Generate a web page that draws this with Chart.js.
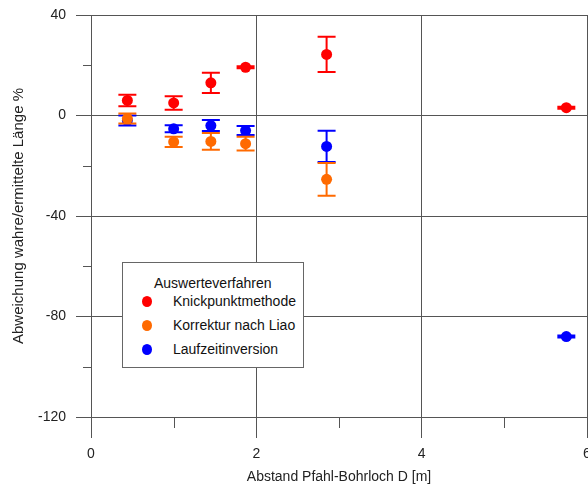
<!DOCTYPE html>
<html><head><meta charset="utf-8">
<script src="https://cdn.jsdelivr.net/npm/chart.js@4/dist/chart.umd.min.js"></script>
<style>
html,body{margin:0;padding:0;background:#fff;}
#wrap{position:relative;width:588px;height:486px;overflow:hidden;}
#c{position:absolute;left:0;top:0;}
#legend{position:absolute;left:122px;top:262px;width:180px;height:104px;border:1px solid #666;background:#fff;font:14px "Liberation Sans",Arial,sans-serif;color:#111;}
#legend .t{position:absolute;left:31px;top:11px;line-height:18px;white-space:nowrap;}
#legend .it{position:absolute;left:50px;line-height:18px;white-space:nowrap;}
#legend .dot{position:absolute;left:19px;width:10px;height:11px;border-radius:50%;}
</style></head><body>
<div id="wrap"><canvas id="c" width="588" height="486"></canvas><div id="legend"></div></div>
<script>
// ---- data ----
const seriesNames = ['Knickpunktmethode', 'Korrektur nach Liao', 'Laufzeitinversion'];
const seriesColors = ['#ff0000', '#ff6a00', '#0000ff'];
const legendTitle = 'Auswerteverfahren';
const knickX = [0.44, 1.0, 1.45, 1.87, 2.85, 5.75];
const knickY = [6.0, 5.0, 13.0, 19.2, 24.3, 3.1];
const knickErr = [2.3, 2.7, 4.0, 0.4, 7.0, 0.4];
const liaoX = [0.44, 1.0, 1.45, 1.87, 2.85];
const liaoY = [-1.2, -10.5, -10.3, -11.2, -25.4];
const liaoErr = [2.0, 2.0, 3.3, 2.7, 6.5];
const laufX = [0.44, 1.0, 1.45, 1.87, 2.85, 5.75];
const laufY = [-2.0, -5.3, -4.0, -6.0, -12.3, -88.0];
const laufErr = [2.0, 1.4, 2.2, 1.8, 6.2, 0.4];
const xTicks = [0, 2, 4, 6];
const xMinorTicks = [1, 3, 5];
const yTicks = [40, 0, -40, -80, -120];
const yMinorTicks = [20, -20, -60, -100];
const xTitle = 'Abstand Pfahl-Bohrloch D [m]';
const yTitle = 'Abweichung wahre/ermittelte Länge %';

const FONT = '"Liberation Sans", Arial, sans-serif';
const GRID = '#555555';

function pts(xs, ys) { return xs.map((x, i) => ({x: x, y: ys[i]})); }

const errorBars = {
  id: 'errorBars',
  beforeDatasetDraw(chart, args) {
    const ds = chart.data.datasets[args.index];
    const meta = args.meta;
    const ys = chart.scales.y;
    const ctx = chart.ctx;
    ctx.save();
    ctx.strokeStyle = ds.backgroundColor;
    ctx.lineWidth = 2;
    meta.data.forEach((el, i) => {
      const v = ds.data[i].y, e = ds.errors[i];
      const top = ys.getPixelForValue(v + e), bot = ys.getPixelForValue(v - e);
      const x = el.x, hw = 9;
      ctx.beginPath();
      ctx.moveTo(x, top); ctx.lineTo(x, bot);
      ctx.moveTo(x - hw, top); ctx.lineTo(x + hw, top);
      ctx.moveTo(x - hw, bot); ctx.lineTo(x + hw, bot);
      ctx.stroke();
    });
    ctx.restore();
  }
};

const minorTicks = {
  id: 'minorTicks',
  afterDraw(chart) {
    const {ctx, chartArea, scales} = chart;
    ctx.save();
    ctx.strokeStyle = GRID; ctx.lineWidth = 1;
    ctx.beginPath();
    xMinorTicks.forEach(v => {
      const x = Math.round(scales.x.getPixelForValue(v)) + 0.5;
      ctx.moveTo(x, chartArea.bottom); ctx.lineTo(x, chartArea.bottom + 11);
    });
    yMinorTicks.forEach(v => {
      const y = Math.round(scales.y.getPixelForValue(v)) + 0.5;
      ctx.moveTo(chartArea.left, y); ctx.lineTo(chartArea.left - 8, y);
    });
    ctx.stroke();
    ctx.restore();
  }
};

const chart = new Chart(document.getElementById('c'), {
  type: 'scatter',
  data: {
    datasets: [
      {label: seriesNames[0], data: pts(knickX, knickY), errors: knickErr, backgroundColor: seriesColors[0], borderColor: seriesColors[0]},
      {label: seriesNames[1], data: pts(liaoX, liaoY), errors: liaoErr, backgroundColor: seriesColors[1], borderColor: seriesColors[1]},
      {label: seriesNames[2], data: pts(laufX, laufY), errors: laufErr, backgroundColor: seriesColors[2], borderColor: seriesColors[2]}
    ]
  },
  options: {
    responsive: false,
    animation: false,
    elements: {point: {radius: 5.5, borderWidth: 0, hoverRadius: 5.5}},
    layout: {autoPadding: false, padding: {top: 15, right: 1, left: 0, bottom: 0}},
    plugins: {legend: {display: false}, tooltip: {enabled: false}},
    scales: {
      x: {
        type: 'linear', min: 0, max: 6,
        afterBuildTicks: s => { s.ticks = xTicks.map(v => ({value: v})); },
        afterFit: s => { s.height = 69; s.paddingLeft = 0; s.paddingRight = 0; },
        grid: {color: GRID, lineWidth: 1, tickLength: 21, tickColor: GRID},
        border: {display: true, color: GRID},
        ticks: {font: {family: FONT, size: 14}, color: '#222', padding: 8, maxRotation: 0},
        title: {display: true, text: xTitle, font: {family: FONT, size: 14}, color: '#222', padding: {top: 0, bottom: 0}}
      },
      y: {
        type: 'linear', min: -120, max: 40,
        afterBuildTicks: s => { s.ticks = yTicks.map(v => ({value: v})); },
        afterFit: s => { s.width = 91; s.paddingTop = 0; s.paddingBottom = 0; },
        grid: {color: GRID, lineWidth: 1, tickLength: 15, tickColor: GRID},
        border: {display: true, color: GRID},
        ticks: {font: {family: FONT, size: 14}, color: '#222', padding: 10},
        title: {display: true, text: yTitle, font: {family: FONT, size: 15}, color: '#222', padding: {top: 10, bottom: 0}}
      }
    }
  },
  plugins: [errorBars, minorTicks]
});

// legend overlay built from the series arrays
const lg = document.getElementById('legend');
const t = document.createElement('div'); t.className = 't'; t.textContent = legendTitle; lg.appendChild(t);
seriesNames.forEach((n, i) => {
  const d = document.createElement('div'); d.className = 'dot';
  d.style.background = seriesColors[i]; d.style.top = (33 + i * 24) + 'px'; lg.appendChild(d);
  const s = document.createElement('div'); s.className = 'it'; s.textContent = n;
  s.style.top = (29 + i * 24) + 'px'; lg.appendChild(s);
});
</script>
</body></html>
